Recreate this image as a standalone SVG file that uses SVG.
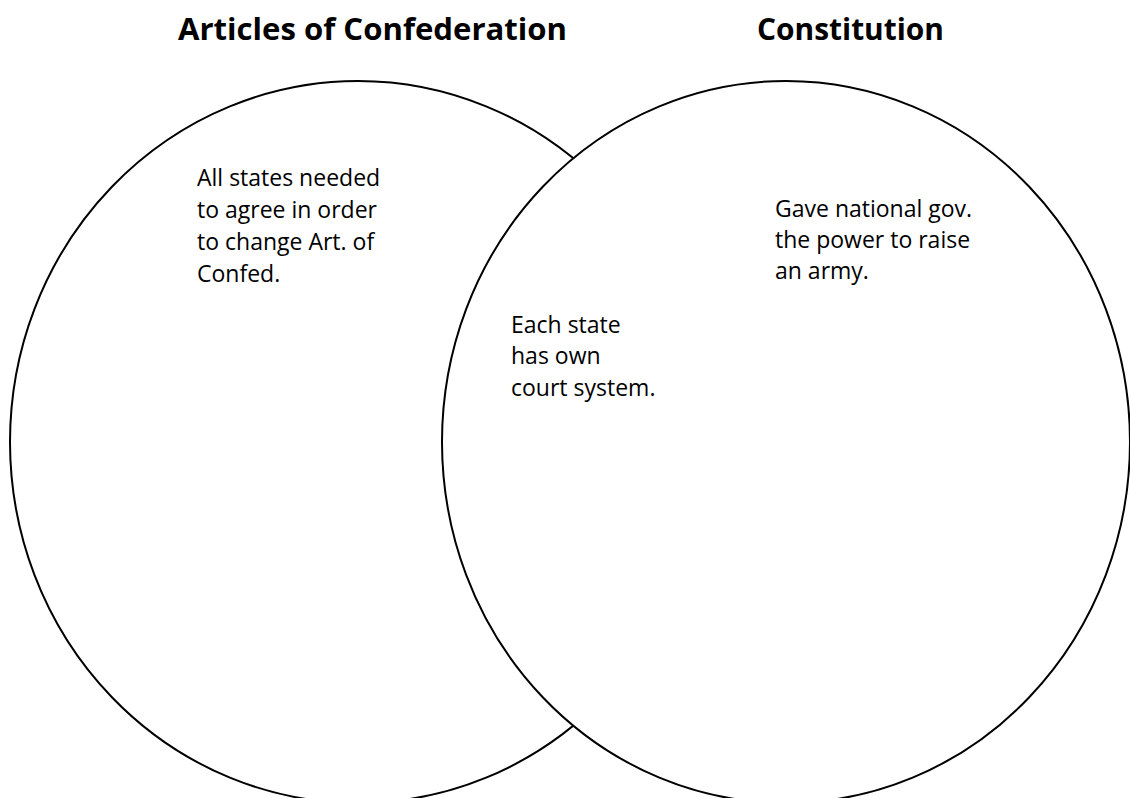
<svg xmlns="http://www.w3.org/2000/svg" width="1130" height="798" viewBox="0 0 1130 798">
  <style>
    .ring { fill: #fff; stroke: #000; stroke-width: 2; }
    .title { font-family: "Open Sans", "Liberation Sans", sans-serif; font-weight: bold; font-size: 30px; fill: #000; }
    .body { font-family: "Open Sans", "Liberation Sans", sans-serif; font-size: 23px; fill: #000; }
  </style>
  <rect width="1130" height="798" fill="#fff"/>
  <g id="left-set">
    <ellipse class="ring" cx="358" cy="442" rx="348" ry="361"/>
  </g>
  <g id="right-set">
    <ellipse class="ring" cx="786" cy="442" rx="344" ry="361"/>
  </g>
  <g id="titles">
    <text class="title" x="178" y="40" textLength="389" lengthAdjust="spacingAndGlyphs">Articles of Confederation</text>
    <text class="title" x="757" y="40" textLength="187" lengthAdjust="spacingAndGlyphs">Constitution</text>
  </g>
  <g id="left-text">
    <text class="body" x="197" y="186">All states needed</text>
    <text class="body" x="197" y="218">to agree in order</text>
    <text class="body" x="197" y="250">to change Art. of</text>
    <text class="body" x="197" y="282">Confed.</text>
  </g>
  <g id="overlap-text">
    <text class="body" x="511" y="333">Each state</text>
    <text class="body" x="511" y="364">has own</text>
    <text class="body" x="511" y="396">court system.</text>
  </g>
  <g id="right-text">
    <text class="body" x="775" y="217">Gave national gov.</text>
    <text class="body" x="775" y="248">the power to raise</text>
    <text class="body" x="775" y="279">an army.</text>
  </g>
  <g id="connectors"></g>
</svg>
